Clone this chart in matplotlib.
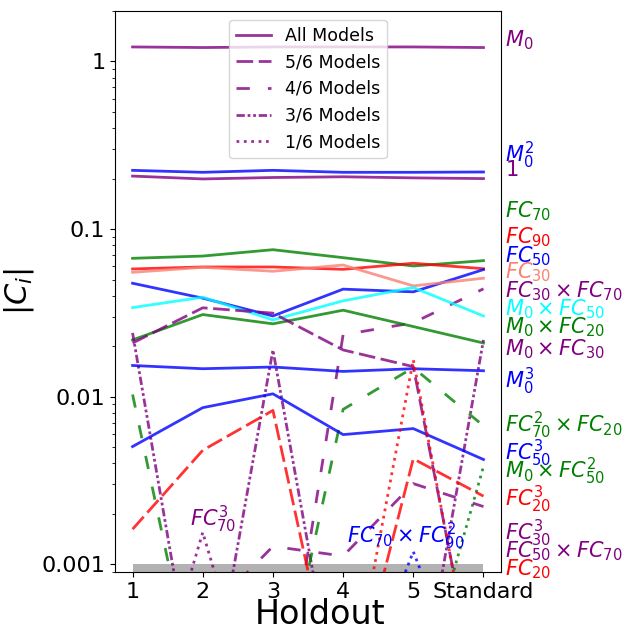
import numpy as np
import matplotlib.pyplot as plt
from matplotlib.lines import Line2D

holdouts = ['1', '2', '3', '4', '5', 'Standard']

# |C_i| for each holdout fit (values below 0.001 run off the bottom of the axis)
M0 = [1.22, 1.21, 1.22, 1.22, 1.22, 1.21]
M0_sq = [0.224, 0.218, 0.224, 0.218, 0.218, 0.219]
const = [0.207, 0.199, 0.203, 0.205, 0.202, 0.200]
FC70 = [0.0669, 0.0690, 0.0753, 0.0675, 0.0602, 0.0648]
FC90 = [0.0578, 0.0594, 0.0594, 0.0575, 0.0625, 0.0580]
FC50 = [0.0475, 0.0387, 0.0303, 0.0438, 0.0422, 0.0573]
FC30 = [0.0552, 0.0591, 0.0560, 0.0610, 0.0458, 0.0509]
M0_FC50 = [0.0340, 0.0392, 0.0287, 0.0373, 0.0448, 0.0303]
M0_FC20 = [0.0218, 0.0309, 0.0272, 0.0328, 0.0262, 0.0209]
M0_cu = [0.01535, 0.01468, 0.01503, 0.01415, 0.01468, 0.01428]
FC50_cu = [0.00504, 0.0086, 0.0104, 0.00594, 0.00645, 0.00422]

FC20_cu = [0.00162, 0.00479, 0.00828, 0.0001, 0.00426, 0.00255]
FC50_FC70 = [0.0209, 0.0339, 0.0315, 0.0190, 0.0151, 0.00011]

FC30_FC70 = [0.00005, 0.00005, 0.00006, 0.0234, 0.0276, 0.0440]
FC30_cu = [0.0001, 0.00048, 0.00128, 0.00112, 0.00303, 0.00221]
FC70sq_FC20 = [0.0103, 0.00011, 0.0001, 0.0084, 0.0149, 0.0067]

M0_FC30 = [0.0240, 0.00009, 0.0190, 0.00009, 0.000095, 0.0218]

FC70_cu = [0.00006, 0.00155, 0.00006, 0.00006, 0.00006, 0.00006]
FC70_FC90sq = [0.0001, 0.0001, 0.0001, 0.0001, 0.00119, 0.0001]
FC20 = [0.0001, 0.0001, 0.0001, 0.0001, 0.0166, 0.0001]
M0_FC50sq = [0.0001, 0.0001, 0.0001, 0.0001, 0.00013, 0.00383]

styles = {
    'all': '-',
    '5/6': (0, (6, 2)),
    '4/6': (0, (4.8, 6.5)),
    '3/6': (0, (3, 1, 1, 1, 1, 1)),
    '1/6': ':',
}

# (values, colour, group, label, label height on the right)
lines = [
    (M0, 'purple', 'all', r'$M_0$', 1.33),
    (M0_sq, 'blue', 'all', r'$M_0^2$', 0.276),
    (const, 'purple', 'all', r'$1$', 0.225),
    (FC70, 'green', 'all', r'$FC_{70}$', 0.128),
    (FC90, 'red', 'all', r'$FC_{90}$', 0.0896),
    (FC50, 'blue', 'all', r'$FC_{50}$', 0.0691),
    (FC30, 'salmon', 'all', r'$FC_{30}$', 0.0555),
    (FC30_FC70, 'purple', '4/6', r'$FC_{30}\times FC_{70}$', 0.0428),
    (M0_FC50, 'cyan', 'all', r'$M_0\times FC_{50}$', 0.0334),
    (M0_FC20, 'green', 'all', r'$M_0\times FC_{20}$', 0.0258),
    (M0_FC30, 'purple', '3/6', r'$M_0\times FC_{30}$', 0.0193),
    (M0_cu, 'blue', 'all', r'$M_0^3$', 0.0123),
    (FC70sq_FC20, 'green', '4/6', r'$FC_{70}^2\times FC_{20}$', 0.00672),
    (FC50_cu, 'blue', 'all', r'$FC_{50}^3$', 0.00458),
    (M0_FC50sq, 'green', '1/6', r'$M_0\times FC_{50}^2$', 0.00358),
    (FC20_cu, 'red', '5/6', r'$FC_{20}^3$', 0.00244),
    (FC30_cu, 'purple', '4/6', r'$FC_{30}^3$', 0.00153),
    (FC50_FC70, 'purple', '5/6', r'$FC_{50}\times FC_{70}$', 0.00119),
    (FC20, 'red', '1/6', r'$FC_{20}$', 0.000933),
]

# lines only present in one holdout get their name inside the plot
inside = [
    (FC70_cu, 'purple', '1/6', r'$FC_{70}^3$', 1.15, 0.00185),
    (FC70_FC90sq, 'blue', '1/6', r'$FC_{70}\times FC_{90}^2$', 3.9, 0.00147),
]

fig = plt.figure(figsize=(6.38, 6.26), dpi=100)
ax = fig.add_axes([0.1803, 0.0863, 0.6050, 0.8962])
x = np.arange(len(holdouts))

ax.fill_between(x, 0.0009, 0.001, color='gray', alpha=0.6, lw=0)

for vals, c, grp, lab, ly in lines:
    ax.plot(x, vals, color=c, alpha=0.8, lw=2, linestyle=styles[grp])
    ax.text(1.01, ly, lab, color=c, fontsize=15, va='center', ha='left',
            transform=ax.get_yaxis_transform())

for vals, c, grp, lab, tx, ty in inside:
    ax.plot(x, vals, color=c, alpha=0.8, lw=2, linestyle=styles[grp])
    ax.text(tx, ty, lab, color=c, fontsize=15, va='center', ha='center')

ax.set_yscale('log')
ax.set_ylim(0.0009, 2)
ax.set_yticks([1, 0.1, 0.01, 0.001])
ax.set_yticklabels(['1', '0.1', '0.01', '0.001'])
ax.set_xticks(x)
ax.set_xticklabels(holdouts)
ax.tick_params(labelsize=16)
ax.set_xlabel('Holdout', fontsize=24)
ax.xaxis.set_label_coords(0.53, -0.047)
ax.set_ylabel(r'$|C_i|$', fontsize=22)

handles = [Line2D([], [], color='purple', alpha=0.8, lw=2, linestyle=styles[k])
           for k in ['all', '5/6', '4/6', '3/6', '1/6']]
names = ['All Models', '5/6 Models', '4/6 Models', '3/6 Models', '1/6 Models']
ax.legend(handles, names, loc='upper center', fontsize=12.5)

plt.savefig('out.png', dpi=100)
